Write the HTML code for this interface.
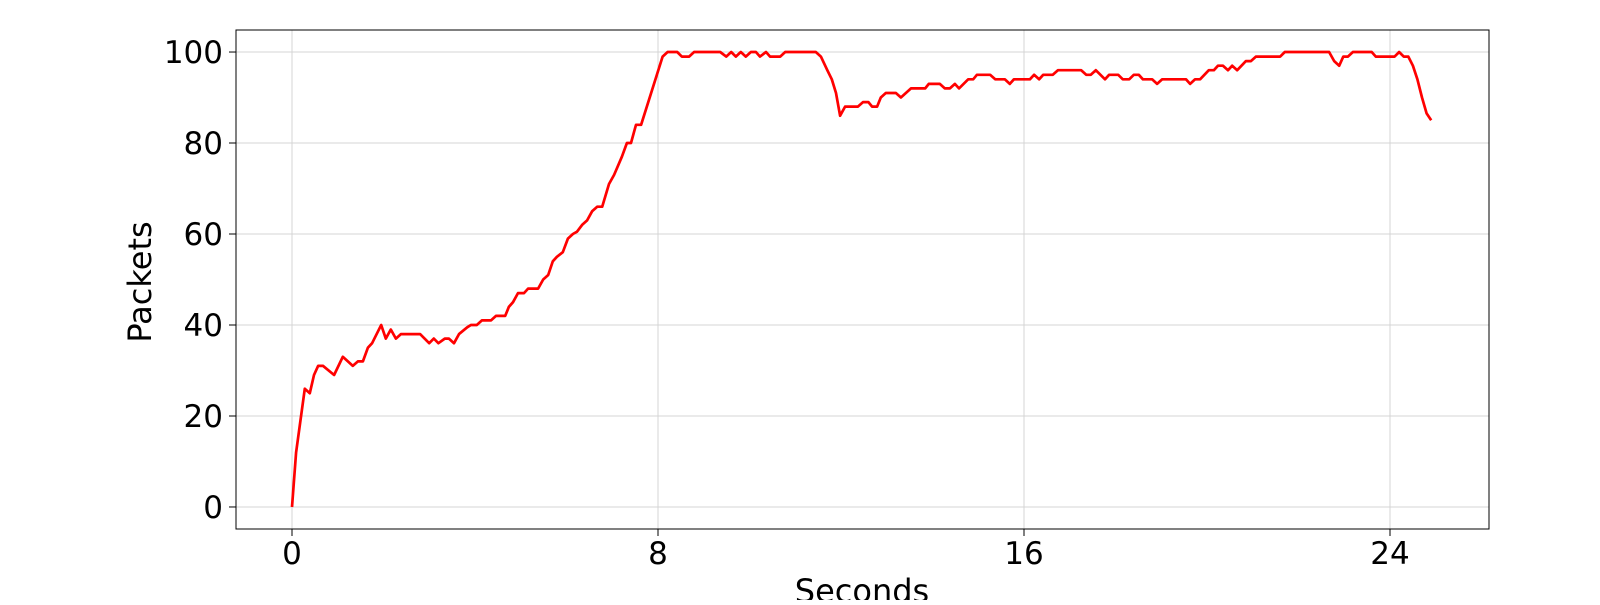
<!DOCTYPE html>
<html><head><meta charset="utf-8"><style>
body{margin:0;background:#fff;width:1600px;height:600px;overflow:hidden}
svg{font-family:"DejaVu Sans","Liberation Sans",sans-serif}
</style></head><body>
<svg id="chart" width="1600" height="600"></svg>
<script>
const times=[0,0.09,0.28,0.39,0.48,0.57,0.68,0.92,1.11,1.33,1.44,1.55,1.66,1.75,1.95,2.05,2.16,2.27,2.38,2.8,3.0,3.1,3.2,3.34,3.43,3.54,3.65,3.83,3.91,4.04,4.15,4.35,4.46,4.66,4.74,4.83,4.94,5.07,5.16,5.38,5.49,5.6,5.7,5.79,5.92,6.03,6.14,6.23,6.34,6.45,6.56,6.67,6.78,6.93,7.04,7.21,7.32,7.41,7.52,7.63,8.1,8.21,8.42,8.52,8.68,8.79,9.36,9.49,9.6,9.7,9.81,9.92,10.03,10.14,10.23,10.36,10.45,10.67,10.78,11.45,11.56,11.7,11.8,11.89,11.98,12.09,12.37,12.48,12.6,12.68,12.79,12.87,12.98,13.2,13.31,13.53,13.84,13.92,14.16,14.27,14.38,14.49,14.58,14.78,14.89,14.97,15.26,15.37,15.58,15.69,15.78,16.13,16.22,16.33,16.42,16.63,16.74,17.25,17.36,17.46,17.57,17.77,17.86,18.06,18.16,18.3,18.4,18.51,18.6,18.8,18.91,19.02,19.54,19.63,19.74,19.85,20.04,20.15,20.24,20.35,20.46,20.55,20.66,20.85,20.96,21.07,21.6,21.7,22.67,22.78,22.89,22.98,23.08,23.19,23.6,23.69,24.1,24.2,24.3,24.4,24.5,24.6,24.7,24.8,24.9];
const packets=[0,12,26,25,29,31,31,29,33,31,32,32,35,36,40,37,39,37,38,38,36,37,36,37,37,36,38,39.5,40,40,41,41,42,42,44,45,47,47,48,48,50,51,54,55,56,59,60,60.5,62,63,65,66,66,71,73,77,80,80,84,84,99,100,100,99,99,100,100,99,100,99,100,99,100,100,99,100,99,99,100,100,99,96,94,91,86,88,88,89,89,88,88,90,91,91,90,92,92,93,93,92,92,93,92,94,94,95,95,94,94,93,94,94,95,94,95,95,96,96,95,95,96,94,95,95,94,94,95,95,94,94,93,94,94,93,94,94,96,96,97,97,96,97,96,98,98,99,99,100,100,98,97,99,99,100,100,99,99,100,99,99,97,94,90,86.5,85];
const xTicks=[0,8,16,24];
const yTicks=[0,20,40,60,80,100];

const NS='http://www.w3.org/2000/svg';
const svg=document.getElementById('chart');
const L=236,R=1489,T=30,B=529;
const X0=-1.224,X1=26.164,Y0=-4.84,Y1=104.84;
const sx=t=>L+(t-X0)/(X1-X0)*(R-L);
const sy=v=>B-(v-Y0)/(Y1-Y0)*(B-T);
function mk(tag,attrs,parent){const e=document.createElementNS(NS,tag);for(const k in attrs)e.setAttribute(k,attrs[k]);(parent||svg).appendChild(e);return e;}

const grid=mk('g',{});


xTicks.forEach(t=>{
  const l=mk('line',{x1:sx(t),x2:sx(t),y1:T,y2:B,stroke:'#d4d4d4','stroke-width':1},grid);
  
  
  const tk=mk('line',{x1:sx(t),x2:sx(t),y1:B,y2:B+7,stroke:'#000','stroke-width':1});
  
  
  const tx=mk('text',{x:sx(t),y:B+35,'text-anchor':'middle','font-size':31,fill:'#000'});
  tx.textContent=t;
  
  
});
yTicks.forEach(v=>{
  const l=mk('line',{x1:L,x2:R,y1:sy(v),y2:sy(v),stroke:'#d4d4d4','stroke-width':1},grid);
  
  
  const tk=mk('line',{x1:L-7,x2:L,y1:sy(v),y2:sy(v),stroke:'#000','stroke-width':1});
  
  
  const tx=mk('text',{x:L-13,y:sy(v)+11,'text-anchor':'end','font-size':31,fill:'#000'});
  tx.textContent=v;
  
  
});
const d=times.map((t,i)=>(i?'L':'M')+sx(t).toFixed(1)+','+sy(packets[i]).toFixed(1)).join('');
const line=mk('path',{d:d,fill:'none',stroke:'#ff0000','stroke-width':2.7,'stroke-linejoin':'round'});


const frame=mk('rect',{x:L,y:T,width:R-L,height:B-T,fill:'none',stroke:'#000','stroke-width':1});


const xl=mk('text',{x:862,y:602,'text-anchor':'middle','font-size':32,fill:'#000'});
xl.textContent='Seconds';


const yl=mk('text',{x:0,y:0,transform:'translate(151,282) rotate(-90)','text-anchor':'middle','font-size':32,fill:'#000'});
yl.textContent='Packets';


</script>
</body></html>
